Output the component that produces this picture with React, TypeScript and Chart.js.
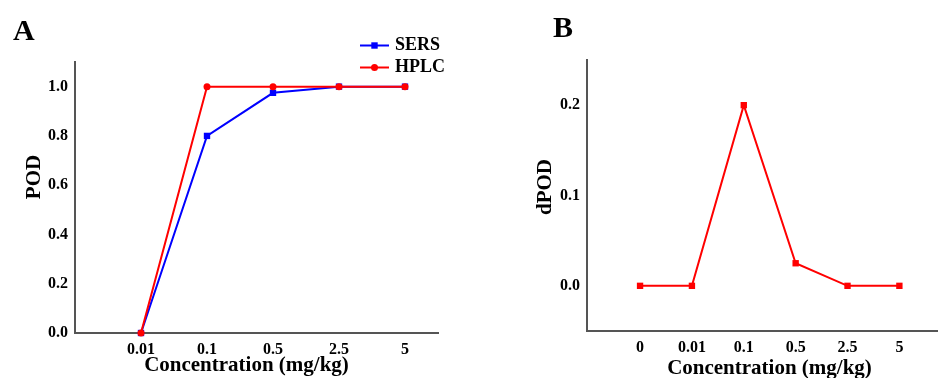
import React, { useEffect, useRef } from 'react';
import { Chart, registerables } from 'chart.js';

Chart.register(...registerables);

// ---------- data ----------
const concA = ['0.01', '0.1', '0.5', '2.5', '5'];
const sersPOD = [0, 0.8, 0.975, 1.0, 1.0];
const hplcPOD = [0, 1.0, 1.0, 1.0, 1.0];
const podTicks = [0, 0.2, 0.4, 0.6, 0.8, 1.0];

const concB = ['0', '0.01', '0.1', '0.5', '2.5', '5'];
const dPOD = [0, 0, 0.2, 0.025, 0, 0];
const dpodTicks = [0, 0.1, 0.2];

// ---------- style ----------
const FONT = "'Liberation Serif', 'Times New Roman', serif";
const BLUE = '#0000ff';
const RED = '#ff0000';
const AXIS = '#555555';
const H = 378;

const textLayer = {
  id: 'textLayer',
  afterDraw(chart: any, _args: any, opts: any) {
    const ctx = chart.ctx;
    (opts.items || []).forEach((it: any) => {
      ctx.save();
      ctx.font = `bold ${it.size}px ${FONT}`;
      ctx.fillStyle = '#000';
      ctx.textAlign = it.align || 'center';
      ctx.textBaseline = 'alphabetic';
      ctx.translate(it.x, it.y);
      if (it.rotate) ctx.rotate(it.rotate);
      ctx.fillText(it.text, 0, 0);
      ctx.restore();
    });
    const lg = opts.legend;
    if (lg) {
      chart.data.datasets.forEach((ds: any, i: number) => {
        const y = lg.y + i * lg.gap;
        ctx.save();
        ctx.strokeStyle = ds.borderColor;
        ctx.fillStyle = ds.borderColor;
        ctx.lineWidth = 2;
        ctx.beginPath();
        ctx.moveTo(lg.x, y);
        ctx.lineTo(lg.x + lg.len, y);
        ctx.stroke();
        const cx = lg.x + lg.len / 2;
        ctx.beginPath();
        if (ds.pointStyle === 'rect') {
          ctx.rect(cx - 3.2, y - 3.2, 6.4, 6.4);
        } else {
          ctx.arc(cx, y, 3.5, 0, Math.PI * 2);
        }
        ctx.fill();
        ctx.font = `bold ${lg.size}px ${FONT}`;
        ctx.fillStyle = '#000';
        ctx.textAlign = 'left';
        ctx.textBaseline = 'alphabetic';
        ctx.fillText(ds.label, lg.textX, y + 4.5);
        ctx.restore();
      });
    }
  },
};

const tickFont = { family: FONT, size: 16, weight: 'bold' as const };

function xScale(labels: string[], min: number, max: number, height: number) {
  return {
    type: 'linear' as const,
    min,
    max,
    afterBuildTicks: (s: any) => {
      s.ticks = labels.map((_, i) => ({ value: i }));
    },
    afterFit: (s: any) => {
      s.height = height;
    },
    ticks: {
      callback: (v: any) => labels[v] ?? '',
      autoSkip: false,
      maxRotation: 0,
      padding: 7,
      color: '#000',
      font: tickFont,
    },
    grid: { display: false, drawTicks: false },
    border: { display: true, color: AXIS, width: 2 },
  };
}

function yScale(ticks: number[], min: number, max: number, width: number) {
  return {
    type: 'linear' as const,
    min,
    max,
    afterBuildTicks: (s: any) => {
      s.ticks = ticks.map((v) => ({ value: v }));
    },
    afterFit: (s: any) => {
      s.width = width;
    },
    ticks: {
      callback: (v: any) => Number(v).toFixed(1),
      autoSkip: false,
      padding: 7,
      color: '#000',
      font: tickFont,
    },
    grid: { display: false, drawTicks: false },
    border: { display: true, color: AXIS, width: 2 },
  };
}

const configA: any = {
  type: 'line',
  data: {
    datasets: [
      {
        label: 'SERS',
        data: sersPOD.map((y, i) => ({ x: i, y })),
        borderColor: BLUE,
        backgroundColor: BLUE,
        pointBackgroundColor: BLUE,
        pointBorderColor: BLUE,
        pointStyle: 'rect',
        pointRadius: 4.5,
        pointBorderWidth: 0,
        borderWidth: 2,
        clip: false,
        order: 1,
      },
      {
        label: 'HPLC',
        data: hplcPOD.map((y, i) => ({ x: i, y })),
        borderColor: RED,
        backgroundColor: RED,
        pointBackgroundColor: RED,
        pointBorderColor: RED,
        pointStyle: 'circle',
        pointRadius: 3.5,
        pointBorderWidth: 0,
        borderWidth: 2,
        clip: false,
        order: 0,
      },
    ],
  },
  options: {
    animation: false,
    responsive: false,
    events: [],
    layout: { padding: { top: 62, right: 31, left: 0, bottom: 0 } },
    scales: {
      x: xScale(concA, -1, 4.5, 45),
      y: yScale(podTicks, 0, 1.1, 75),
    },
    plugins: {
      legend: { display: false },
      tooltip: { enabled: false },
      textLayer: {
        items: [
          { text: 'A', x: 13, y: 40, size: 30, align: 'left' },
          { text: 'Concentration (mg/kg)', x: 246.5, y: 371, size: 21 },
          { text: 'POD', x: 40, y: 177, size: 21, rotate: -Math.PI / 2 },
        ],
        legend: { x: 360, y: 45.5, gap: 22, len: 29, textX: 395, size: 18 },
      },
    },
  },
  plugins: [textLayer],
};

const configB: any = {
  type: 'line',
  data: {
    datasets: [
      {
        label: 'dPOD',
        data: dPOD.map((y, i) => ({ x: i, y })),
        borderColor: RED,
        backgroundColor: RED,
        pointBackgroundColor: RED,
        pointBorderColor: RED,
        pointStyle: 'rect',
        pointRadius: 4.5,
        pointBorderWidth: 0,
        borderWidth: 2,
        clip: false,
      },
    ],
  },
  options: {
    animation: false,
    responsive: false,
    events: [],
    layout: { padding: { top: 60, right: 0, left: 0, bottom: 0 } },
    scales: {
      x: xScale(concB, -1.023, 5.87, 47),
      y: yScale(dpodTicks, -0.05, 0.25, 118),
    },
    plugins: {
      legend: { display: false },
      tooltip: { enabled: false },
      textLayer: {
        items: [
          { text: 'B', x: 84, y: 37, size: 30, align: 'left' },
          { text: 'Concentration (mg/kg)', x: 300.5, y: 374, size: 21 },
          { text: 'dPOD', x: 82, y: 187, size: 21, rotate: -Math.PI / 2 },
        ],
      },
    },
  },
  plugins: [textLayer],
};

function Panel({ config, left, width }: { config: any; left: number; width: number }) {
  const ref = useRef<HTMLCanvasElement | null>(null);
  useEffect(() => {
    if (!ref.current) return;
    const chart = new Chart(ref.current, config);
    return () => chart.destroy();
  }, [config]);
  return (
    <canvas
      ref={ref}
      width={width}
      height={H}
      style={{ position: 'absolute', left, top: 0, width, height: H, display: 'block' }}
    />
  );
}

export default function App() {
  return (
    <div style={{ position: 'absolute', left: 0, top: 0, width: 938, height: H, background: '#fff', overflow: 'hidden' }}>
      <Panel config={configA} left={0} width={469} />
      <Panel config={configB} left={469} width={480} />
    </div>
  );
}
